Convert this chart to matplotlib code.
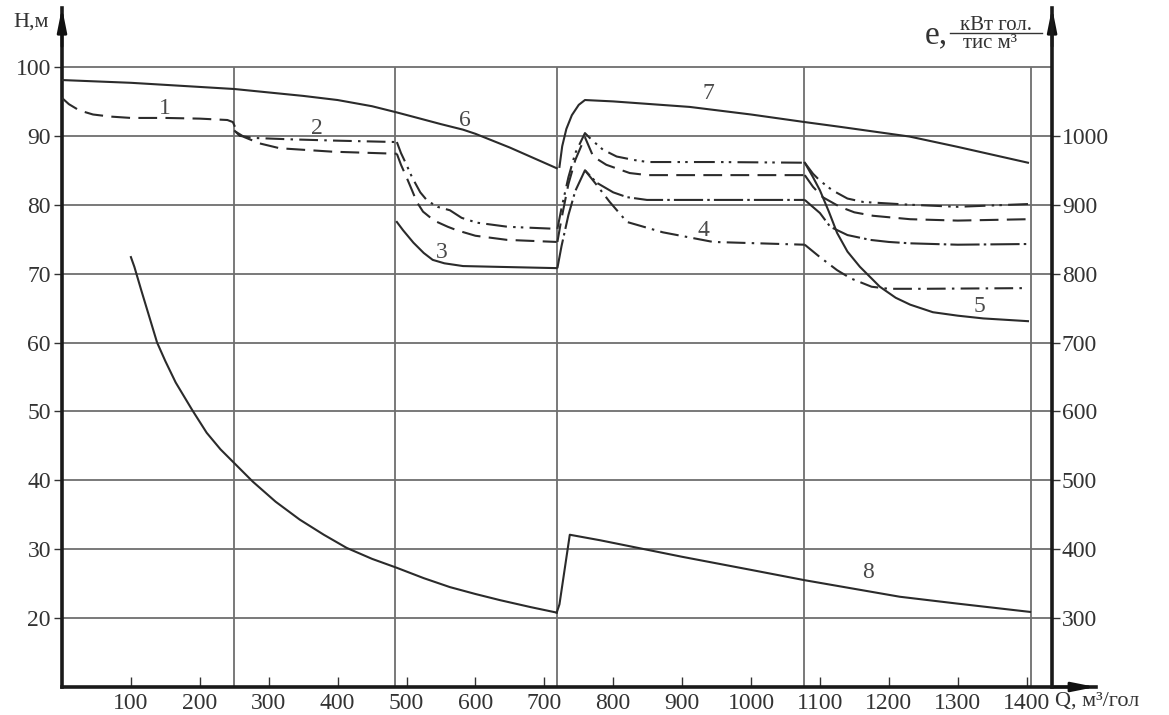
import matplotlib
matplotlib.use("Agg")
import matplotlib.pyplot as plt
from matplotlib.lines import Line2D

plt.rcParams["font.family"] = ["Liberation Serif", "DejaVu Serif"]

# ---- data (Q in m3/h, H in m; right axis e = 10*H + 100) ----
GRID_H = [20, 30, 40, 50, 60, 70, 80, 90, 100]
GRID_Q = [250, 483, 719, 1077, 1406]
X_TICKS = [100, 200, 300, 400, 500, 600, 700, 800, 900, 1000, 1100, 1200, 1300, 1400]
E_TICKS = [300, 400, 500, 600, 700, 800, 900, 1000]

curve6_q = [0, 50, 100, 150, 200, 250, 300, 350, 400, 450, 486, 520, 550, 582, 600, 650, 718]
curve6_h = [98.1, 97.9, 97.7, 97.4, 97.1, 96.8, 96.3, 95.8, 95.2, 94.3, 93.4, 92.5, 91.7, 90.9, 90.3, 88.3, 85.3]

curve7_q = [722, 726, 732, 740, 750, 759, 800, 911, 1000, 1078, 1130, 1230, 1300, 1402]
curve7_h = [85.5, 88.5, 91.0, 93.0, 94.5, 95.2, 95.0, 94.2, 93.1, 92.0, 91.3, 89.9, 88.4, 86.1]

curve1_q = [0, 10, 25, 45, 70, 100, 150, 200, 240, 248, 255]
curve1_h = [95.5, 94.6, 93.7, 93.1, 92.8, 92.6, 92.6, 92.5, 92.3, 92.0, 90.4]

curve2_up_q = [250, 258, 277, 330, 400, 486]
curve2_up_h = [90.8, 90.0, 89.7, 89.5, 89.3, 89.1]
curve2_lo_q = [252, 265, 287, 316, 393, 486]
curve2_lo_h = [90.6, 89.8, 88.9, 88.2, 87.7, 87.4]

seg3_top_q = [486, 492, 500, 508, 520, 530, 545, 563, 580, 602, 647, 718]
seg3_top_h = [89.1, 87.5, 85.8, 84.0, 81.8, 80.6, 79.7, 79.2, 78.1, 77.4, 76.8, 76.5]
seg3_mid_q = [486, 492, 500, 508, 515, 524, 540, 560, 573, 600, 646, 718]
seg3_mid_h = [87.4, 85.8, 84.0, 82.1, 80.4, 79.0, 77.7, 76.8, 76.3, 75.5, 74.9, 74.6]
curve3_q = [486, 495, 510, 525, 538, 555, 582, 626, 718]
curve3_h = [77.5, 76.3, 74.5, 73.0, 72.0, 71.5, 71.1, 71.0, 70.8]

seg4_top_q = [719, 725, 735, 745, 759, 769, 785, 805, 830, 850, 950, 1078]
seg4_top_h = [76.5, 79.5, 84.0, 87.5, 90.4, 89.4, 88.0, 87.0, 86.5, 86.2, 86.2, 86.1]
seg4_mid_q = [719, 725, 735, 745, 759, 771, 790, 824, 850, 950, 1078]
seg4_mid_h = [74.6, 78.0, 83.0, 86.5, 89.8, 87.0, 85.8, 84.6, 84.3, 84.3, 84.3]
seg4_low_q = [719, 725, 735, 745, 759, 776, 800, 820, 849, 950, 1078]
seg4_low_h = [70.8, 74.0, 78.5, 82.0, 85.0, 83.2, 81.8, 81.1, 80.7, 80.7, 80.7]
curve4_a_q = [759, 775, 795, 820, 872, 945, 1078]
curve4_a_h = [85.0, 83.0, 80.4, 77.5, 76.0, 74.6, 74.2]

seg5_top_q = [1078, 1090, 1100, 1118, 1140, 1163, 1231, 1300, 1402]
seg5_top_h = [86.1, 84.5, 83.5, 82.1, 80.9, 80.4, 80.0, 79.7, 80.1]
seg5_mid_q = [1078, 1090, 1104, 1129, 1150, 1177, 1231, 1300, 1402]
seg5_mid_h = [84.3, 82.6, 81.1, 79.7, 78.9, 78.4, 77.9, 77.7, 77.9]
seg5_low_q = [1078, 1100, 1115, 1140, 1173, 1200, 1231, 1300, 1402]
seg5_low_h = [80.7, 78.8, 76.8, 75.6, 74.9, 74.6, 74.4, 74.2, 74.3]
curve4_b_q = [1078, 1100, 1125, 1145, 1175, 1200, 1250, 1402]
curve4_b_h = [74.2, 72.4, 70.5, 69.3, 68.1, 67.8, 67.8, 67.9]
curve5_q = [1078, 1090, 1100, 1113, 1125, 1140, 1158, 1187, 1210, 1231, 1264, 1300, 1337, 1402]
curve5_h = [86.1, 84.0, 82.1, 79.0, 75.9, 73.2, 71.0, 68.1, 66.5, 65.5, 64.4, 63.9, 63.5, 63.1]

curve8_a_q = [100, 105, 115, 125, 138, 150, 165, 189, 210, 230, 248, 277, 310, 345,
              380, 413, 450, 486, 525, 563, 600, 636, 680, 718]
curve8_a_h = [72.4, 71.0, 67.6, 64.3, 60.0, 57.3, 54.2, 50.2, 46.9, 44.5, 42.7, 39.8, 36.9, 34.3,
              32.1, 30.2, 28.6, 27.3, 25.8, 24.5, 23.5, 22.6, 21.6, 20.8]
curve8_b_q = [718, 722, 737, 781, 900, 1000, 1078, 1216, 1300, 1405]
curve8_b_h = [20.8, 22.0, 32.1, 31.3, 28.9, 27.0, 25.5, 23.1, 22.1, 20.9]

LABELS = ["1", "2", "3", "4", "5", "6", "7", "8"]
LABEL_Q = [149, 370, 551, 931, 1332, 585, 938, 1170]
LABEL_H = [94.0, 91.1, 73.1, 76.3, 65.2, 92.3, 96.2, 26.6]

# ---- styles ----
INK = "#2b2b2b"
SOLID = "-"
DASHED = (0, (9, 4))
DASHDOT = (0, (9, 3, 1.2, 3))
DASHDOTDOT = (0, (10, 3, 1.2, 2.5, 1.2, 3))
LONGDASHDOT = (0, (14, 2, 1.2, 2))

series = [
    (curve6_q, curve6_h, SOLID),
    (curve7_q, curve7_h, SOLID),
    (curve1_q, curve1_h, DASHED),
    (curve2_up_q, curve2_up_h, DASHDOT),
    (curve2_lo_q, curve2_lo_h, DASHED),
    (seg3_top_q, seg3_top_h, DASHDOTDOT),
    (seg3_mid_q, seg3_mid_h, DASHED),
    (curve3_q, curve3_h, SOLID),
    (seg4_top_q, seg4_top_h, DASHDOTDOT),
    (seg4_mid_q, seg4_mid_h, DASHED),
    (seg4_low_q, seg4_low_h, LONGDASHDOT),
    (curve4_a_q, curve4_a_h, DASHDOT),
    (seg5_top_q, seg5_top_h, DASHDOTDOT),
    (seg5_mid_q, seg5_mid_h, DASHED),
    (seg5_low_q, seg5_low_h, LONGDASHDOT),
    (curve4_b_q, curve4_b_h, DASHDOT),
    (curve5_q, curve5_h, SOLID),
    (curve8_a_q, curve8_a_h, SOLID),
    (curve8_b_q, curve8_b_h, SOLID),
]

W, H = 1169, 715
fig = plt.figure(figsize=(W / 100, H / 100), dpi=100)
ax = fig.add_axes([62 / W, 28 / H, 1033.5 / W, 678.6 / H])
ax.set_xlim(0, 1500)
ax.set_ylim(10, 108.5)

E_AXIS_Q = 1437

# grid
ax.hlines(GRID_H, 0, E_AXIS_Q, color="#6e6e6e", lw=1.3, zorder=1)
ax.vlines(GRID_Q, 10, 100, color="#6e6e6e", lw=1.3, zorder=1)

for q, h, ls in series:
    ax.plot(q, h, color=INK, lw=1.5, linestyle=ls, zorder=3)

for txt, q, h in zip(LABELS, LABEL_Q, LABEL_H):
    ax.text(q, h, txt, fontsize=17, color="#4a4a4a", ha="center", va="center", zorder=4)

# spines / ticks
for side in ["top", "right"]:
    ax.spines[side].set_visible(False)
for side in ["left", "bottom"]:
    ax.spines[side].set_linewidth(2.6)
    ax.spines[side].set_color("#1a1a1a")

ax.set_xticks(X_TICKS)
ax.set_yticks(GRID_H)
ax.tick_params(axis="x", direction="in", length=7, width=1, labelsize=17, pad=4, colors="#333333")
ax.tick_params(axis="y", direction="out", length=6, width=1, labelsize=17, pad=2, colors="#333333")

ax2 = ax.twinx()
ax2.set_ylim(10 * 10 + 100, 10 * 108.5 + 100)
for side in ["top", "left", "bottom"]:
    ax2.spines[side].set_visible(False)
ax2.spines["right"].set_position(("data", E_AXIS_Q))
ax2.spines["right"].set_linewidth(2.6)
ax2.spines["right"].set_color("#1a1a1a")
ax2.set_yticks(E_TICKS)
ax2.tick_params(axis="y", direction="out", length=6, width=1, labelsize=17, pad=1, colors="#333333")

# axis arrows
arrow = dict(arrowstyle="-|>,head_length=1.4,head_width=0.28", color="#111111", lw=2, shrinkA=0, shrinkB=0)
ax.annotate("", xy=(0, 108.6), xytext=(0, 103), arrowprops=arrow, annotation_clip=False)
ax.annotate("", xy=(E_AXIS_Q, 108.6), xytext=(E_AXIS_Q, 103), arrowprops=arrow, annotation_clip=False)
ax.annotate("", xy=(1500, 10), xytext=(1440, 10), arrowprops=arrow, annotation_clip=False)

# axis titles
fig.text(13 / W, 1 - 22 / H, "H,м", fontsize=16, color="#333333", ha="left", va="center")
fig.text(925 / W, 1 - 35 / H, "e,", fontsize=24, color="#333333", ha="left", va="center")
fig.text(996 / W, 1 - 25 / H, "кВт гол.", fontsize=15, color="#333333", ha="center", va="center")
fig.text(990 / W, 1 - 43 / H, "тис м³", fontsize=15, color="#333333", ha="center", va="center")
fig.add_artist(Line2D([950 / W, 1042 / W], [1 - 33 / H, 1 - 33 / H], color="#333333", lw=1))
fig.text(1055 / W, 1 - 701 / H, "Q, м³/гол", fontsize=16, color="#333333", ha="left", va="center")

fig.savefig("out.png", dpi=100)
